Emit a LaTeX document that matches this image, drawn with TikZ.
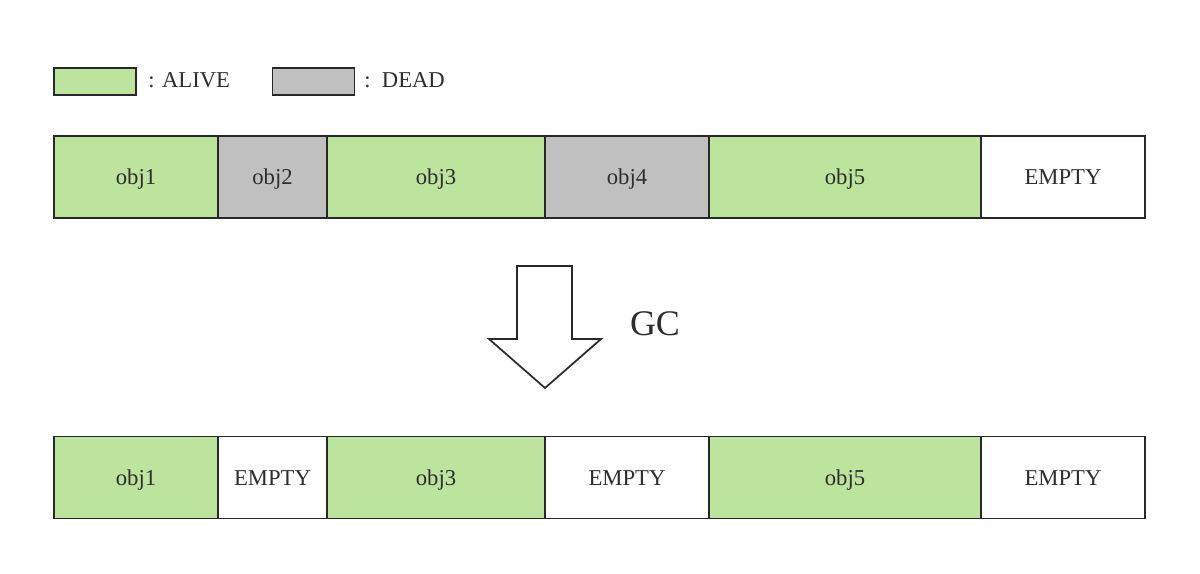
\documentclass[tikz,border=0pt]{standalone}
\usepackage{fontspec}
\setmainfont{Liberation Serif}
\definecolor{alive}{RGB}{188,228,156}
\definecolor{dead}{RGB}{192,192,192}
\definecolor{edge}{RGB}{40,40,40}
\definecolor{ink}{RGB}{45,45,45}
\begin{document}
\begin{tikzpicture}[x=0.75pt,y=-0.75pt,
  cell/.style={draw=edge,line width=1.1pt,inner sep=0pt,outer sep=0pt,minimum height=61.5pt,text=ink,text height=13pt,text depth=1pt,font=\fontsize{17}{20}\selectfont},
  legbox/.style={draw=edge,line width=1.3pt,inner sep=0pt,minimum width=61.5pt,minimum height=20pt},
  legtext/.style={anchor=west,inner sep=0pt,text=ink,font=\fontsize{17}{20}\selectfont}]
\useasboundingbox (0,0) rectangle (1200,574);
% legend
\node[legbox,fill=alive] (la) at (95,81.5) {};
\node[legtext] (lat) at (148,80) {: ALIVE};
\node[legbox,fill=dead] (ld) at (313.5,81.5) {};
\node[legtext] (ldt) at (364,80) {:\ \ DEAD};
% top row
\node[cell,fill=alive,minimum width=123pt] (t1) at (136,177) {obj1};
\node[cell,fill=dead,minimum width=81.75pt] (t2) at (272.5,177) {obj2};
\node[cell,fill=alive,minimum width=163.5pt] (t3) at (436,177) {obj3};
\node[cell,fill=dead,minimum width=123pt] (t4) at (627,177) {obj4};
\node[cell,fill=alive,minimum width=204pt] (t5) at (845,177) {obj5};
\node[cell,fill=white,minimum width=123pt] (t6) at (1063,177) {EMPTY};
% arrow
\draw[edge,line width=1.3pt,fill=white,line join=miter]
  (517,266) -- (572,266) -- (572,339) -- (601,339) -- (545,388) -- (489,339) -- (517,339) -- cycle;
\node[inner sep=0pt,text=ink,font=\fontsize{27}{30}\selectfont] (gc) at (655,324) {GC};
% bottom row
\node[cell,fill=alive,minimum width=123pt] (b1) at (136,477.5) {obj1};
\node[cell,fill=white,minimum width=81.75pt] (b2) at (272.5,477.5) {EMPTY};
\node[cell,fill=alive,minimum width=163.5pt] (b3) at (436,477.5) {obj3};
\node[cell,fill=white,minimum width=123pt] (b4) at (627,477.5) {EMPTY};
\node[cell,fill=alive,minimum width=204pt] (b5) at (845,477.5) {obj5};
\node[cell,fill=white,minimum width=123pt] (b6) at (1063,477.5) {EMPTY};
\end{tikzpicture}
\end{document}
